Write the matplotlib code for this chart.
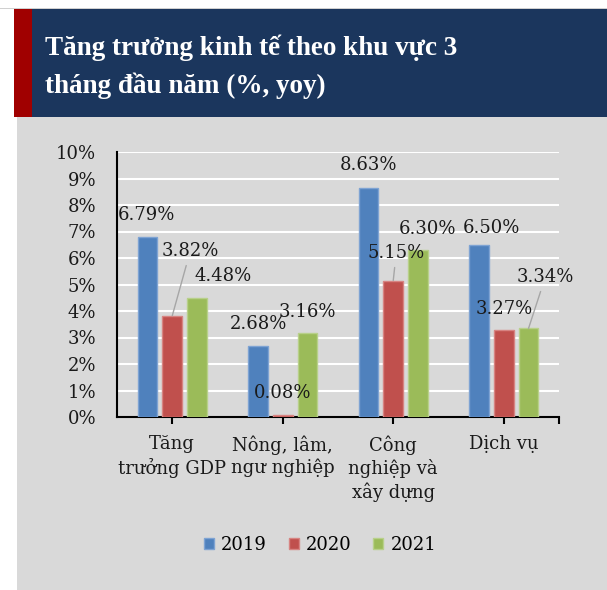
import numpy as np
import matplotlib.pyplot as plt
from matplotlib.patches import Rectangle

# data
categories = ['Tăng\ntrưởng GDP', 'Nông, lâm,\nngư nghiệp', 'Công\nnghiệp và\nxây dựng', 'Dịch vụ']
years = ['2019', '2020', '2021']
v2019 = [6.79, 2.68, 8.63, 6.50]
v2020 = [3.82, 0.08, 5.15, 3.27]
v2021 = [4.48, 3.16, 6.30, 3.34]

colors = ['#4F81BD', '#C0504D', '#9BBB59']
edges = ['#7EA3D3', '#D78482', '#B8D08A']

# label positions (moved by hand in the original)
lab_pos = [
    [(-0.235, 7.62), (0.778, 3.51), (1.774, 9.51), (2.887, 7.13)],
    [(0.163, 6.26), (0.995, 0.91), (2.027, 6.19), (3.005, 4.08)],
    [(0.46, 5.32), (1.22, 3.96), (2.308, 7.09), (3.376, 5.28)],
]
leaders = {(1, 0), (1, 2), (2, 3)}

W, H = 607, 590
fig = plt.figure(figsize=(W / 100, H / 100), dpi=100)
fig.patch.set_facecolor('white')

def px(x, y, w, h):
    return (x / W, 1 - (y + h) / H, w / W, h / H)

# header + panel on a background axes
bg = fig.add_axes([0, 0, 1, 1], zorder=-1)
bg.set_xlim(0, W)
bg.set_ylim(H, 0)
bg.axis('off')
bg.add_patch(Rectangle((0, 8), W, 1, facecolor='#D0D0D0', edgecolor='none'))
bg.add_patch(Rectangle((17, 117), W, H - 117, facecolor='#D9D9D9', edgecolor='none'))
bg.add_patch(Rectangle((32, 9), W, 108, facecolor='#1B365D', edgecolor='none'))
bg.add_patch(Rectangle((14, 9), 18, 108, facecolor='#A00000', edgecolor='none'))

title_font = dict(family='Liberation Serif', weight='bold', size=19.5, color='white')
bg.text(45, 55, 'Tăng trưởng kinh tế theo khu vực 3', va='baseline', **title_font)
bg.text(45, 93, 'tháng đầu năm (%, yoy)', va='baseline', **title_font)

ax = fig.add_axes(px(117, 152, 442, 265))
ax.set_facecolor('#D9D9D9')

x = np.arange(len(categories))
bw = 0.18
off = 0.224
series = [v2019, v2020, v2021]
for i, vals in enumerate(series):
    ax.bar(x + (i - 1) * off, vals, bw, color=colors[i], edgecolor=edges[i],
           linewidth=1, label=years[i], zorder=3)

for i, vals in enumerate(series):
    for j, v in enumerate(vals):
        tx, ty = lab_pos[i][j]
        txt = f'{v:.2f}%'
        if (i, j) in leaders:
            ax.annotate(txt, xy=(j + (i - 1) * off, v), xytext=(tx, ty),
                        ha='center', va='center', family='DejaVu Serif', fontsize=13,
                        color='#1A1A1A', zorder=4,
                        arrowprops=dict(arrowstyle='-', color='#A6A6A6', lw=1,
                                        shrinkA=2, shrinkB=0))
        else:
            ax.text(tx, ty, txt, ha='center', va='center', family='DejaVu Serif',
                    fontsize=13, color='#1A1A1A', zorder=4)

ax.set_xlim(-0.5, 3.5)
ax.set_ylim(0, 10)
ax.set_yticks(np.arange(0, 11, 1))
ax.set_yticklabels([f'{t}%' for t in range(11)], family='DejaVu Serif', fontsize=13,
                   color='#1A1A1A')
ax.yaxis.grid(True, color='white', lw=1.5, zorder=0)
ax.set_axisbelow(True)
ax.tick_params(axis='y', length=0, pad=15)

ax.set_xticks(list(x) + [3.5])
ax.set_xticklabels(categories + [''], family='DejaVu Serif', fontsize=13, color='#1A1A1A',
                   linespacing=1.3, va='top')
ax.tick_params(axis='x', length=5, width=1.5, color='black', pad=8, direction='out')

for s in ['top', 'right']:
    ax.spines[s].set_visible(False)
for s in ['left', 'bottom']:
    ax.spines[s].set_color('black')
    ax.spines[s].set_linewidth(1.5)

fig.legend(loc='center', bbox_to_anchor=(320 / W, 1 - 545 / H), ncol=3, frameon=False,
           prop=dict(family='DejaVu Serif', size=13), handlelength=0.55, handleheight=0.55,
           handletextpad=0.4, columnspacing=1.2)

fig.savefig('out.png', dpi=100)
